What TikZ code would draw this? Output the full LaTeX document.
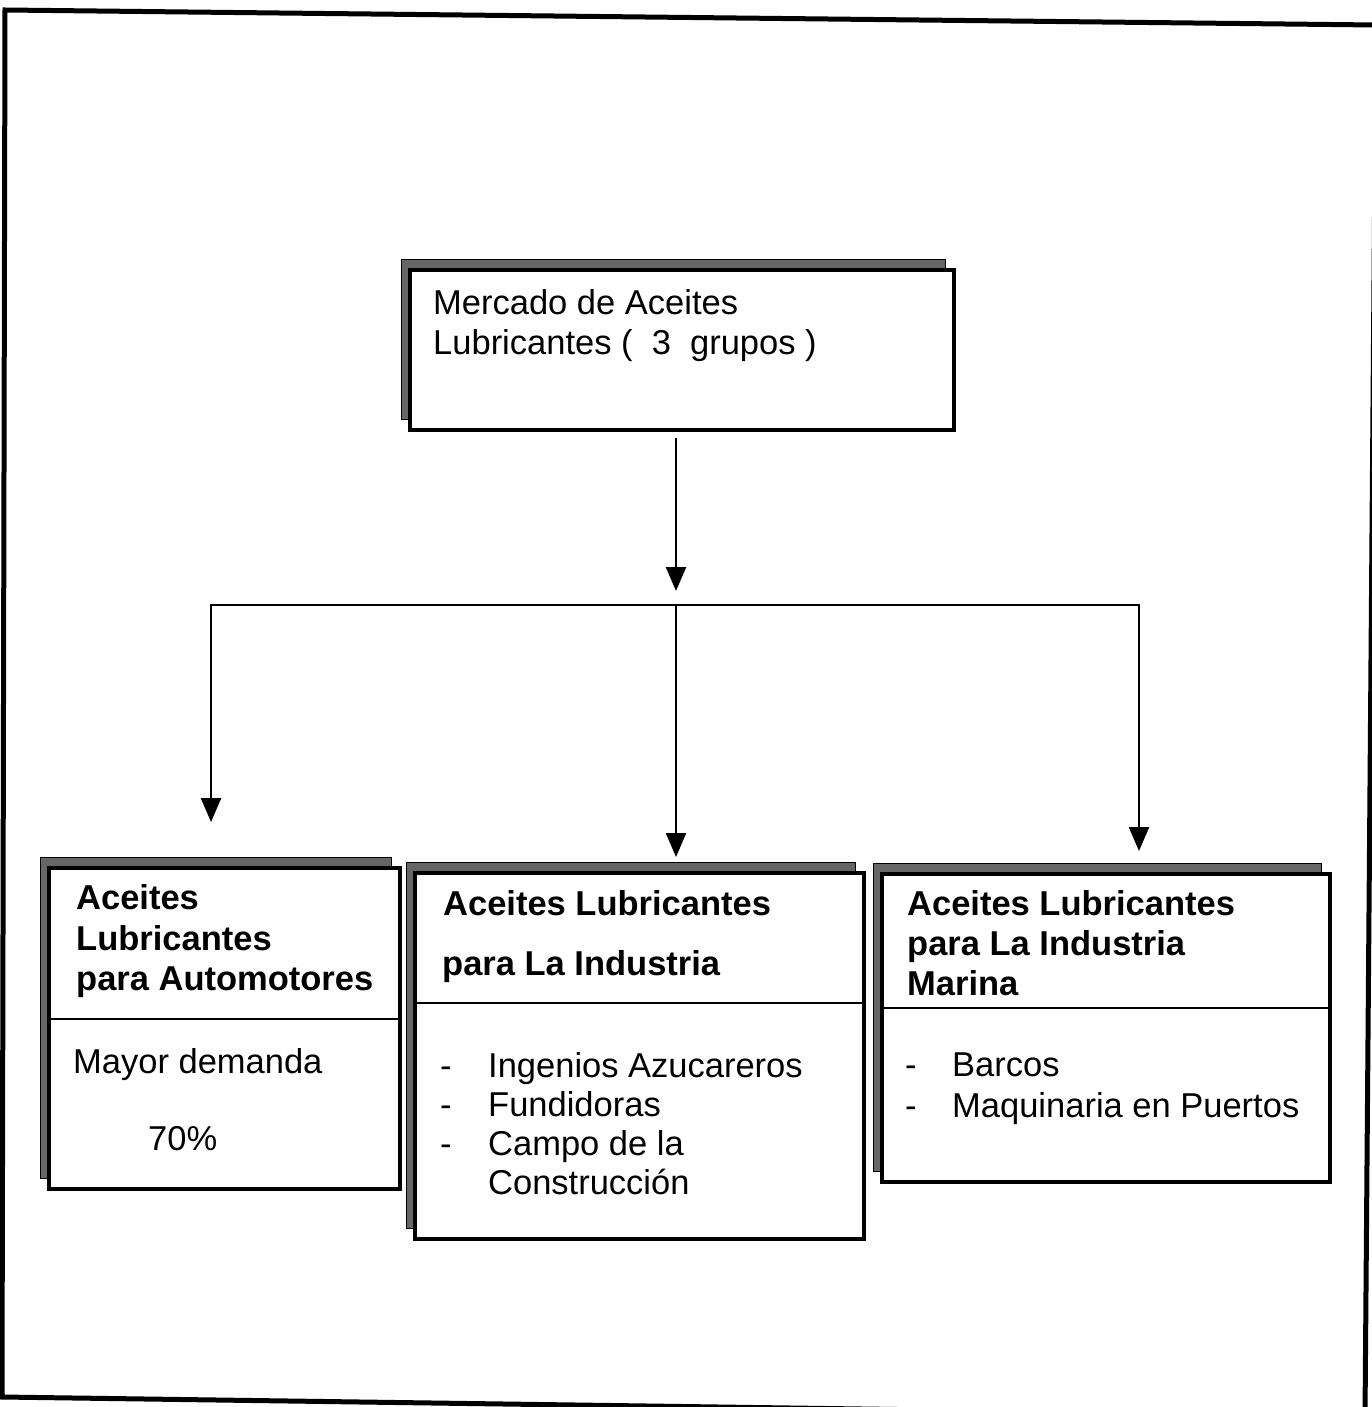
\documentclass[tikz,border=0pt]{standalone}
\usepackage{fontspec}
\setmainfont{Liberation Sans}
\usetikzlibrary{arrows.meta,shadows}

\begin{document}
\begin{tikzpicture}[x=1pt,y=-1pt,
  frame/.style={line width=5pt, line join=miter},
  box/.style={draw, line width=3.5pt, fill=white, inner sep=0pt, anchor=north west,
    general shadow={fill=black!60, draw=black, line width=1pt,
                    shadow xshift=-8pt, shadow yshift=10pt}},
  divider/.style={line width=2.5pt},
  link/.style={line width=2.4pt},
  arrow/.style={link, -{Triangle[width=20pt,length=24pt]}},
  txt/.style={font=\fontsize{34.5}{40}\selectfont, inner sep=0pt, anchor=base west},
  hd/.style={txt, font=\fontsize{34.5}{40}\selectfont\bfseries},
]
\useasboundingbox (0,0) rectangle (1372,1407);
\fill[white] (0,0) rectangle (1372,1407);
\clip (0,0) rectangle (1372,1407);

% outer frame
\draw[frame] (5,10) -- (1376,25) -- (1365,1416) -- (2,1397) -- cycle;

% boxes
\node[box, minimum width=544pt, minimum height=160pt] (top) at (408,268) {};
\node[box, minimum width=351pt, minimum height=321pt] (auto) at (47,866) {};
\node[box, minimum width=449pt, minimum height=366pt] (ind) at (413,871) {};
\node[box, minimum width=448pt, minimum height=308pt] (mar) at (880,872) {};

% dividers between heading and body
\draw[divider] ([yshift=-153pt]auto.north west) -- ([yshift=-153pt]auto.north east);
\draw[divider] ([yshift=-132pt]ind.north west) -- ([yshift=-132pt]ind.north east);
\draw[divider] ([yshift=-136pt]mar.north west) -- ([yshift=-136pt]mar.north east);

% top box text
\node[txt] (tt1) at (433,314) {Mercado de Aceites};
\node[txt] (tt2) at (433,354) {Lubricantes (\ \ 3\ \ grupos )};

% automotive box
\node[hd] (la1) at (76,909) {Aceites};
\node[hd] (la2) at (76,950) {Lubricantes};
\node[hd] (la3) at (76,990) {para Automotores};
\node[txt] (lb1) at (73,1073) {Mayor demanda};
\node[txt] (lb2) at (148,1150) {70\%};

% industry box
\node[hd] (ma1) at (443,915) {Aceites Lubricantes};
\node[hd] (ma2) at (442,975) {para La Industria};
\node[txt] (md1) at (440,1077) {-};
\node[txt] (mb1) at (488,1077) {Ingenios Azucareros};
\node[txt] (md2) at (440,1116) {-};
\node[txt] (mb2) at (488,1116) {Fundidoras};
\node[txt] (md3) at (440,1155) {-};
\node[txt] (mb3) at (488,1155) {Campo de la};
\node[txt] (mb4) at (488,1194) {Construcción};

% marine box
\node[hd] (ra1) at (907,915) {Aceites Lubricantes};
\node[hd] (ra2) at (907,955) {para La Industria};
\node[hd] (ra3) at (907,995) {Marina};
\node[txt] (rd1) at (905,1076) {-};
\node[txt] (rb1) at (952,1076) {Barcos};
\node[txt] (rd2) at (905,1117) {-};
\node[txt] (rb2) at (952,1117) {Maquinaria en Puertos};

% connectors
\coordinate (jn) at (676,605);
\coordinate (bl) at (211,605);
\coordinate (br) at (1139,605);
\draw[arrow, shorten <=6pt, shorten >=14pt] (top.south -| jn) -- (jn);
\draw[arrow, shorten >=44pt] (jn) -- (bl) -- (bl |- auto.north);
\draw[arrow, shorten >=14pt] (jn) -- (jn |- ind.north);
\draw[arrow, shorten >=21pt] (jn) -- (br) -- (br |- mar.north);
\end{tikzpicture}
\end{document}
